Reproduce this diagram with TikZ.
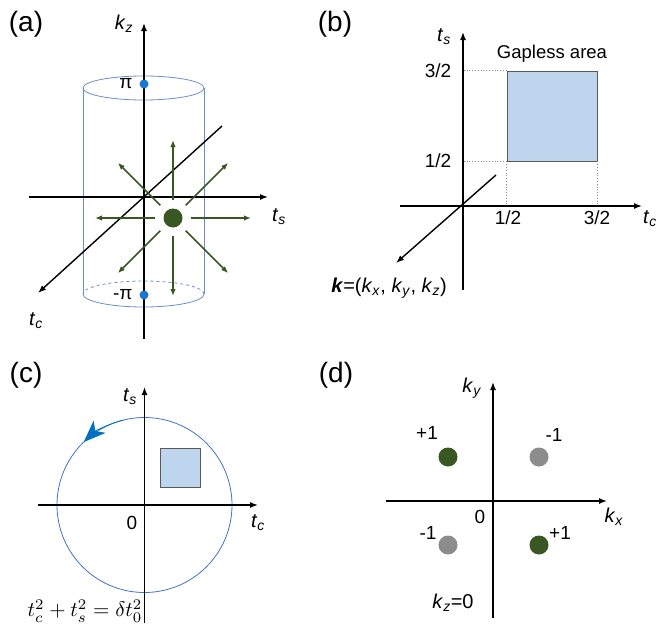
\documentclass[tikz,border=0pt]{standalone}
\usepackage{fontspec}
\usepackage{graphicx}
\setmainfont{Liberation Sans}
\usetikzlibrary{arrows.meta,calc}
\definecolor{dgreen}{RGB}{56,87,35}
\definecolor{dotgray}{RGB}{140,140,140}
\definecolor{cylblue}{RGB}{110,140,200}
\definecolor{ptblue}{RGB}{25,120,210}
\definecolor{loopblue}{RGB}{68,114,196}
\definecolor{tipblue}{RGB}{0,112,192}
\definecolor{gapfill}{RGB}{189,214,238}
\newcommand{\ilab}[2]{\textit{#1}\textsubscript{\textit{#2}}}

\begin{document}
\begin{tikzpicture}[x=1pt, y=-1pt,
  axis/.style={line width=1.4pt, -{Latex[length=8pt,width=6pt]}},
  garrow/.style={dgreen, line width=1.5pt, -{Latex[length=7pt,width=5.5pt]}},
  cyl/.style={cylblue, line width=0.8pt},
  panel/.style={font=\fontsize{28}{30}\selectfont},
  lab/.style={font=\fontsize{20}{22}\selectfont},
  tick/.style={font=\fontsize{19}{21}\selectfont},
  pt/.style={circle, fill=#1, inner sep=0pt, minimum size=19pt},
  gapbox/.style={draw=black!65, line width=0.9pt, fill=gapfill, inner sep=0pt},
  guide/.style={black!45, dotted, line width=0.8pt}]
\useasboundingbox (0,0) rectangle (656,629);

% (a) cylinder and monopole
\node[panel] (la) at (26,24) {(a)};
\draw[cyl] (143.5,88) ellipse (60.5pt and 12pt);
\draw[cyl] (83,88) -- (83,294);
\draw[cyl] (204,88) -- (204,294);
\draw[cyl, dashed] (204,294) arc[start angle=0, end angle=180, x radius=60.5pt, y radius=13pt];
\draw[cyl] (83,294) arc[start angle=180, end angle=360, x radius=60.5pt, y radius=13pt];
\coordinate (kzb) at (144,339);
\coordinate (kzt) at (144,23);
\coordinate (tsl) at (29,197);
\coordinate (tsr) at (268,197);
\coordinate (tcb) at (222,126);
\coordinate (tcf) at (38,293);
\draw[axis] (kzb) -- (kzt);
\draw[axis] (tsl) -- (tsr);
\draw[axis] (tcb) -- (tcf);
\node[lab] (kz) at (124,24) {\ilab{k}{z}};
\node[lab] (ts) at (279,217) {\ilab{t}{s}};
\node[lab] (tc) at (36,321) {\ilab{t}{c}};
\node[pt=ptblue, minimum size=9pt] (pip) at (144,84) {};
\node[pt=ptblue, minimum size=9pt] (pim) at (144,295) {};
\node[tick, anchor=east] (lpip) at (136,84) {π};
\node[tick, anchor=east] (lpim) at (136,295) {-π};
\node[pt=dgreen] (gc) at (173,218) {};
\foreach \a in {0,45,...,315}
  \draw[garrow] ($(gc)+(\a:18pt)$) -- ($(gc)+(\a:78pt)$);

% (b) gapless area
\node[panel] (lb) at (335,24) {(b)};
\coordinate (ob) at (463,206);
\coordinate (tsb) at (463,290);
\coordinate (tst) at (463,32);
\coordinate (tcl) at (400,206);
\coordinate (tcr) at (642,206);
\coordinate (kb) at (496,175);
\coordinate (kf) at (396,263);
\node[gapbox, minimum width=90pt, minimum height=90pt] (gap) at (552,116) {};
\draw[guide] (gap.north west) -- (gap.north west -| ob);
\draw[guide] (gap.south west) -- (gap.south west -| ob);
\draw[guide] (gap.south west) -- (gap.south west |- ob);
\draw[guide] (gap.south east) -- (gap.south east |- ob);
\draw[axis] (tsb) -- (tst);
\draw[axis] (tcl) -- (tcr);
\draw[axis] (kb) -- (kf);
\node[lab] (tsb2) at (444,37) {\ilab{t}{s}};
\node[lab] (tcb2) at (650,219) {\ilab{t}{c}};
\node[tick] (y32) at (438,71) {3/2};
\node[tick] (y12) at (438,161) {1/2};
\node[tick] (x12) at (508,218) {1/2};
\node[tick] (x32) at (597,218) {3/2};
\node[font=\fontsize{18.5}{20}\selectfont] (gl) at (552,54) {Gapless area};
\node[lab] (kvec) at (389,288) {\textbf{\textit{k}}=(\ilab{k}{x}, \ilab{k}{y}, \ilab{k}{z})};

% (c) loop around the gapless area
\node[panel] (lc) at (26,375) {(c)};
\coordinate (oc) at (144.5,505);
\coordinate (tsb3) at (144.5,623);
\coordinate (tst3) at (144.5,387);
\coordinate (tcl3) at (38,505);
\coordinate (tcr3) at (258,505);
\draw[loopblue, line width=0.8pt] (oc) circle (87.5pt);
\draw[tipblue, line width=0.8pt, -{Stealth[length=22pt,width=17pt,inset=6pt]}]
  ($(oc)+(104:87.5pt)$) arc[start angle=104, end angle=134, radius=87.5pt];
\draw[axis] (tsb3) -- (tst3);
\draw[axis] (tcl3) -- (tcr3);
\node[gapbox, minimum width=40pt, minimum height=39pt] (gapc) at (180,467.5) {};
\node[lab] (tsc) at (130,397) {\ilab{t}{s}};
\node[lab] (tcc) at (258,523) {\ilab{t}{c}};
\node[tick] (zc) at (132,523) {0};
\node[inner sep=0pt] (eq) at (85,611) {\scalebox{2.1}{$t_c^2+t_s^2=\delta t_0^2$}};

% (d) Weyl points at kz=0
\node[panel] (ld) at (336,375) {(d)};
\coordinate (od) at (493,501);
\coordinate (kyb) at (493,618);
\coordinate (kyt) at (493,382);
\coordinate (kxl) at (386,501);
\coordinate (kxr) at (607,501);
\draw[axis] (kyb) -- (kyt);
\draw[axis] (kxl) -- (kxr);
\node[lab] (ky) at (472,388) {\ilab{k}{y}};
\node[lab] (kx) at (614,517) {\ilab{k}{x}};
\node[tick] (zd) at (480,517) {0};
\node[pt=dgreen] (w1) at (448,457) {};
\node[pt=dotgray] (w2) at (539,457) {};
\node[pt=dotgray] (w3) at (448,545) {};
\node[pt=dgreen] (w4) at (539,545) {};
\node[tick] (lw1) at (427,433) {+1};
\node[tick] (lw2) at (554,435) {-1};
\node[tick] (lw3) at (428,533) {-1};
\node[tick] (lw4) at (560,533) {+1};
\node[lab] (kz0) at (453,603) {\ilab{k}{z}=0};
\end{tikzpicture}
\end{document}
